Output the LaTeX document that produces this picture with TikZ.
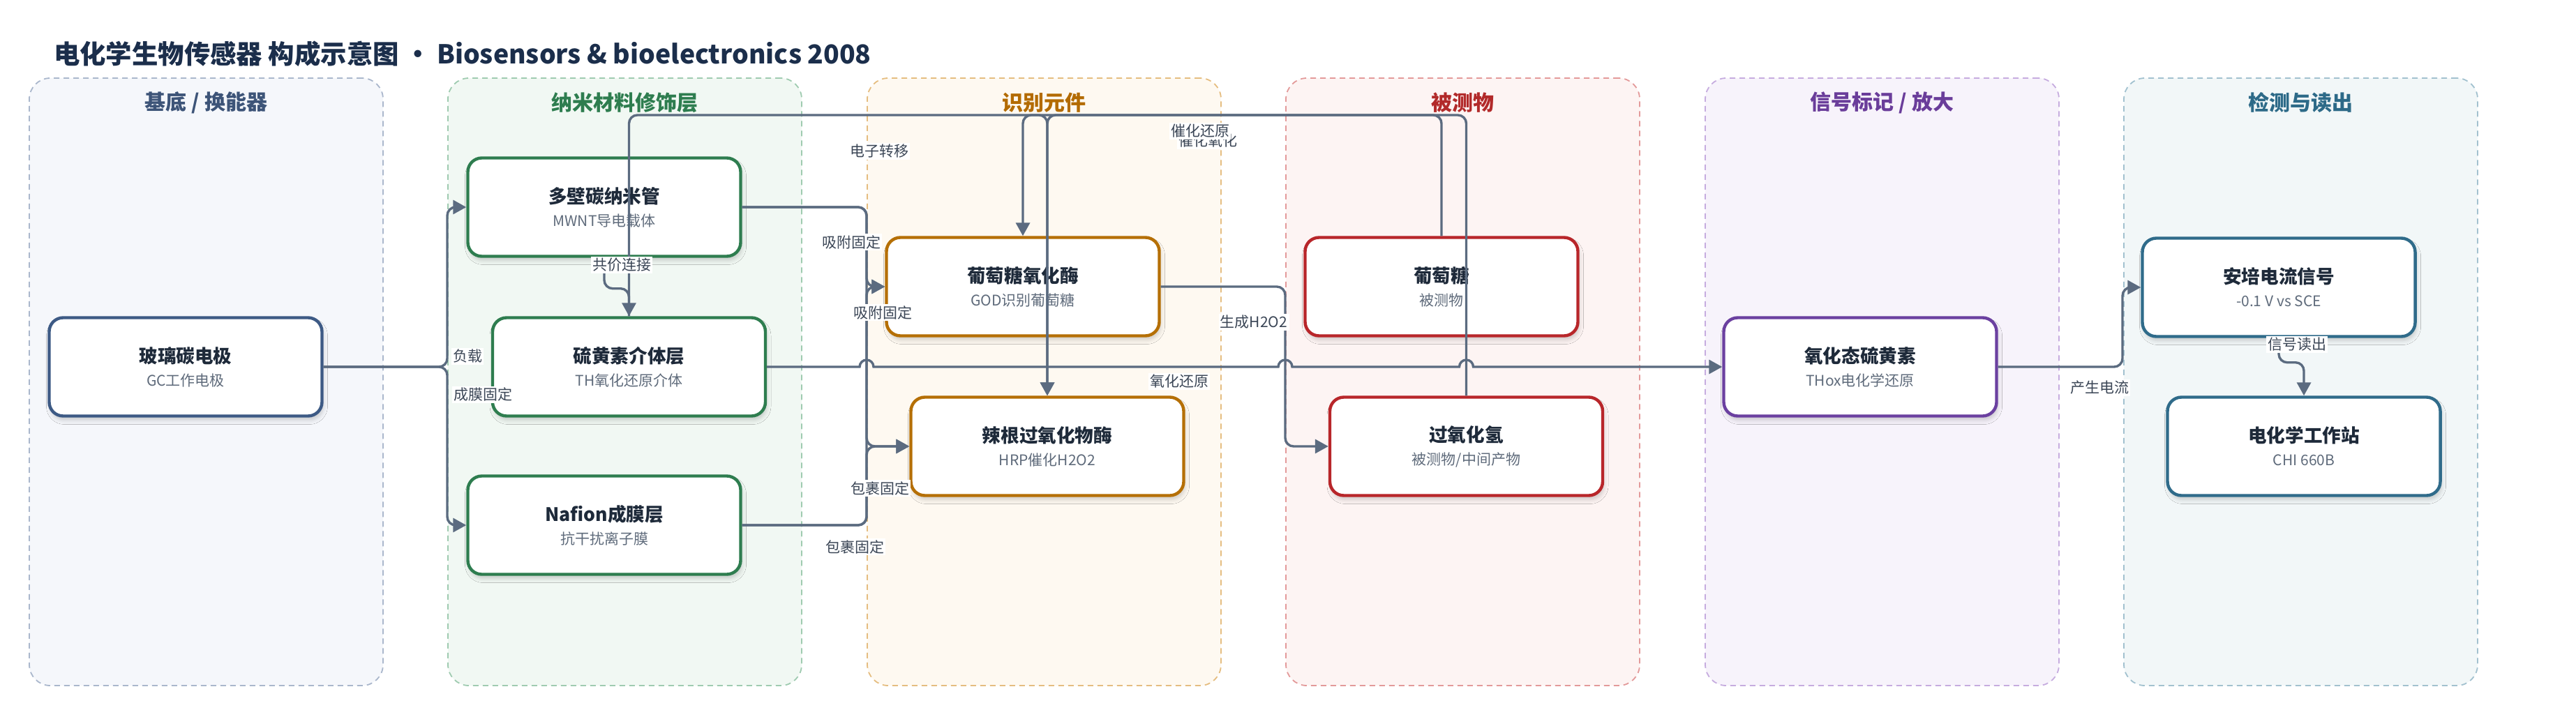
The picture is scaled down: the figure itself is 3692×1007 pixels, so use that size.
\documentclass[tikz,border=0pt]{standalone}
\usepackage{fontspec}
\setmainfont{Noto Sans CJK SC}
\usetikzlibrary{arrows.meta,shadows.blur}

\definecolor{linec}{HTML}{5B6B80}
\definecolor{titlec}{HTML}{1E2A3A}
\definecolor{subc}{HTML}{5F6B7B}
\definecolor{labc}{HTML}{3B4656}
\definecolor{headc}{HTML}{1B2E4B}
\definecolor{aD}{HTML}{AAB7CC}\definecolor{aF}{HTML}{F5F7FB}\definecolor{aH}{HTML}{3D5478}\definecolor{aN}{HTML}{3D5A85}
\definecolor{bD}{HTML}{9FCBB0}\definecolor{bF}{HTML}{F1F8F3}\definecolor{bH}{HTML}{2E7D4F}\definecolor{bN}{HTML}{2E7D4F}
\definecolor{cD}{HTML}{E5BD80}\definecolor{cF}{HTML}{FEF9F1}\definecolor{cH}{HTML}{B36B00}\definecolor{cN}{HTML}{B56F05}
\definecolor{dD}{HTML}{E39A9A}\definecolor{dF}{HTML}{FDF4F3}\definecolor{dH}{HTML}{B22A2A}\definecolor{dN}{HTML}{B8262A}
\definecolor{eD}{HTML}{C6ACDF}\definecolor{eF}{HTML}{F7F3FB}\definecolor{eH}{HTML}{6A3D9A}\definecolor{eN}{HTML}{6B40A0}
\definecolor{fD}{HTML}{A2C1CF}\definecolor{fF}{HTML}{F2F7F8}\definecolor{fH}{HTML}{2D6A88}\definecolor{fN}{HTML}{2F6B8A}

\newcommand{\boxtext}[2]{{\fontsize{13.3}{16}\selectfont\bfseries\color{titlec}#1}\\{\color{subc}#2}}

\begin{document}
\begin{tikzpicture}[x=0.5pt,y=0.5pt,
    lane/.style 2 args={draw=#1,fill=#2,dash pattern=on 4pt off 3pt,line width=0.9pt,rounded corners=15pt,minimum width=253.5pt,minimum height=435.5pt},
    head/.style={text=#1,font=\fontsize{15}{17}\selectfont\bfseries},
    box/.style={draw=#1,fill=white,line width=2.2pt,rounded corners=10pt,minimum width=195.5pt,minimum height=70.5pt,align=center,
        font=\fontsize{10.5}{16.5}\selectfont,
        blur shadow={shadow xshift=1pt,shadow yshift=-3pt,shadow blur radius=3pt,shadow opacity=18}},
    conn/.style={draw=linec,line width=1.7pt,rounded corners=6pt,-{Triangle[length=9.5pt,width=10pt]}},
    elab/.style={fill=white,inner sep=1.2pt,text=labc,font=\fontsize{10.5}{12}\selectfont}]

    \useasboundingbox (0,0) rectangle (3692,-1007);

    \node[anchor=west,text=headc,font=\fontsize{18.7}{20}\selectfont\bfseries] (T) at (70,-77) {电化学生物传感器 构成示意图 • Biosensors \& bioelectronics 2008};

    \node[lane={aD}{aF}] (LA) at (295.5,-547.5) {};
    \node[lane={bD}{bF}] (LB) at (895.5,-547.5) {};
    \node[lane={cD}{cF}] (LC) at (1496.5,-547.5) {};
    \node[lane={dD}{dF}] (LD) at (2096.5,-547.5) {};
    \node[lane={eD}{eF}] (LE) at (2697.5,-547.5) {};
    \node[lane={fD}{fF}] (LF) at (3297.5,-547.5) {};

    \node[head=aH] (HA) at (295.5,-147) {基底 / 换能器};
    \node[head=bH] (HB) at (895.5,-147) {纳米材料修饰层};
    \node[head=cH] (HC) at (1496.5,-147) {识别元件};
    \node[head=dH] (HD) at (2096.5,-147) {被测物};
    \node[head=eH] (HE) at (2697.5,-147) {信号标记 / 放大};
    \node[head=fH] (HF) at (3297.5,-147) {检测与读出};

    \node[box=aN] (GC) at (266,-526) {\boxtext{玻璃碳电极}{GC工作电极}};
    \node[box=bN] (MWNT) at (866,-297) {\boxtext{多壁碳纳米管}{MWNT导电载体}};
    \node[box=bN] (TH) at (901.5,-526) {\boxtext{硫黄素介体层}{TH氧化还原介体}};
    \node[box=bN] (NAF) at (866,-753) {\boxtext{Nafion成膜层}{抗干扰离子膜}};
    \node[box=cN] (GOD) at (1466,-411) {\boxtext{葡萄糖氧化酶}{GOD识别葡萄糖}};
    \node[box=cN] (HRP) at (1501,-640) {\boxtext{辣根过氧化物酶}{HRP催化H2O2}};
    \node[box=dN] (GLU) at (2066,-411) {\boxtext{葡萄糖}{被测物}};
    \node[box=dN] (HP) at (2101.5,-640) {\boxtext{过氧化氢}{被测物/中间产物}};
    \node[box=eN] (THOX) at (2666,-526) {\boxtext{氧化态硫黄素}{THox电化学还原}};
    \node[box=fN] (AMP) at (3266,-412) {\boxtext{安培电流信号}{-0.1 V vs SCE}};
    \node[box=fN] (CHI) at (3302,-640) {\boxtext{电化学工作站}{CHI 660B}};

    \draw[conn] (GC.east) -- (641,-526) |- (MWNT.west);
    \draw[conn] (GC.east) -- (641,-526) |- (NAF.west);
    \draw[conn] (MWNT.south) -- ++(0,-44) -| (TH.north);
    \draw[conn] (TH.north) -- (TH.north |- 0,-165) -| (HRP.north);
    \draw[conn] (GLU.north) -- (GLU.north |- 0,-165) -| (GOD.north);
    \draw[conn] (HP.north) -- (HP.north |- 0,-165) -| (HRP.north);
    \draw[conn] (MWNT.east) -- (1242,-297) |- (GOD.west);
    \draw[conn] (MWNT.east) -- (1242,-297) |- (HRP.west);
    \draw[conn] (NAF.east) -- (1242,-753) |- (GOD.west);
    \draw[conn] (NAF.east) -- (1242,-753) |- (HRP.west);
    \draw[conn] (GOD.east) -- (1842,-411) |- (HP.west);
    \draw[conn,sharp corners] (TH.east) -- (1232,-526) arc[start angle=180,end angle=0,radius=5pt]
        -- (1832,-526) arc[start angle=180,end angle=0,radius=5pt]
        -- (2091.5,-526) arc[start angle=180,end angle=0,radius=5pt] -- (THOX.west);
    \draw[conn] (THOX.east) -- (3042,-526) |- (AMP.west);
    \draw[conn] (AMP.south) -- ++(0,-35) -| (CHI.north);

    \node[elab] (E1) at (670,-511) {负载};
    \node[elab] (E2) at (692,-566) {成膜固定};
    \node[elab] (E3) at (891,-380) {共价连接};
    \node[elab] (E4) at (1260,-217) {电子转移};
    \node[elab] (E5) at (1731,-202) {催化氧化};
    \node[elab] (E6) at (1720,-188) {催化还原};
    \node[elab] (E7) at (1220,-347) {吸附固定};
    \node[elab] (E8) at (1265,-448) {吸附固定};
    \node[elab] (E9) at (1261,-700) {包裹固定};
    \node[elab] (E10) at (1225,-784) {包裹固定};
    \node[elab] (E11) at (1797,-462) {生成H2O2};
    \node[elab] (E12) at (1690,-547) {氧化还原};
    \node[elab] (E13) at (3009,-556) {产生电流};
    \node[elab] (E14) at (3292,-494) {信号读出};
\end{tikzpicture}
\end{document}
